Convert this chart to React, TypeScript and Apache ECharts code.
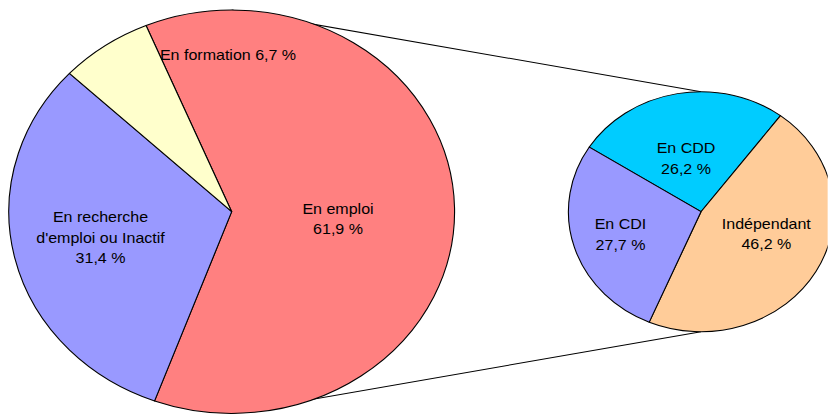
import React, { useEffect, useRef } from "react";
import * as echarts from "echarts";

// Main pie (situation)
const mainCategories = ["En emploi", "En recherche\nd'emploi ou Inactif", "En formation"];
const mainValues = [61.9, 31.4, 6.7];
const mainColors = ["#FF8080", "#9999FF", "#FFFFCC"];

// Detail pie (breakdown of "En emploi")
const subCategories = ["En CDD", "Indépendant", "En CDI"];
const subValues = [26.2, 46.2, 27.7];
const subColors = ["#00CCFF", "#FFCC99", "#9999FF"];

// Horizontal stretch of the whole picture (pies drawn as ellipses)
const S = 1.105;
const W = 828 / S;
const H = 414;

// Layout (in unstretched coordinates)
const C1 = { x: 231.7 / S, y: 211.7, r: 201.7 };
const C2 = { x: 701 / S, y: 211.7, r: 120 };

// Label centres (in picture coordinates)
const mainLabelPos = [
  [338, 219],
  [100.5, 237.5],
  [228, 54.5],
];
const subLabelPos = [
  [686, 158.3],
  [766.3, 234],
  [620.5, 234.5],
];

const fmt = (v: number) => v.toFixed(1).replace(".", ",") + " %";

export default function App() {
  const ref = useRef<HTMLDivElement>(null);
  useEffect(() => {
    if (!ref.current) return;
    const chart = echarts.init(ref.current, null, { renderer: "svg" });
    const labelStyle = {
      show: true,
      position: "inside" as const,
      color: "#000",
      fontSize: 14.5,
      lineHeight: 20.5,
      fontFamily: "'Liberation Sans', Arial, sans-serif",
      align: "center" as const,
    };
    chart.setOption({
      animation: false,
      backgroundColor: "#fff",
      graphic: [
        {
          type: "line",
          z: -10,
          silent: true,
          shape: { x1: C1.x, y1: C1.y - C1.r, x2: C2.x, y2: C2.y - C2.r },
          style: { stroke: "#000", lineWidth: 1 },
        },
        {
          type: "line",
          z: -10,
          silent: true,
          shape: { x1: C1.x, y1: C1.y + C1.r, x2: C2.x, y2: C2.y + C2.r },
          style: { stroke: "#000", lineWidth: 1 },
        },
      ],
      series: [
        {
          type: "pie",
          silent: true,
          z: 5,
          center: [C1.x, C1.y],
          radius: [0, C1.r],
          startAngle: 112.6,
          clockwise: true,
          avoidLabelOverlap: false,
          itemStyle: { borderColor: "#000", borderWidth: 1 },
          label: {
            ...labelStyle,
            formatter: (p: any) =>
              p.dataIndex === 2 ? `${p.name} ${fmt(p.value)}` : `${p.name}\n${fmt(p.value)}`,
          },
          labelLine: { show: false },
          labelLayout: (p: any) => ({
            x: mainLabelPos[p.dataIndex][0] / S,
            y: mainLabelPos[p.dataIndex][1],
            align: "center",
            verticalAlign: "middle",
          }),
          data: mainCategories.map((name, i) => ({
            name,
            value: mainValues[i],
            itemStyle: { color: mainColors[i] },
          })),
        },
        {
          type: "pie",
          silent: true,
          z: 5,
          center: [C2.x, C2.y],
          radius: [0, C2.r],
          startAngle: 147.4,
          clockwise: true,
          avoidLabelOverlap: false,
          itemStyle: { borderColor: "#000", borderWidth: 1 },
          label: {
            ...labelStyle,
            formatter: (p: any) => `${p.name}\n${fmt(p.value)}`,
          },
          labelLine: { show: false },
          labelLayout: (p: any) => ({
            x: subLabelPos[p.dataIndex][0] / S,
            y: subLabelPos[p.dataIndex][1],
            align: "center",
            verticalAlign: "middle",
          }),
          data: subCategories.map((name, i) => ({
            name,
            value: subValues[i],
            itemStyle: { color: subColors[i] },
          })),
        },
      ],
    });
    return () => chart.dispose();
  }, []);
  return (
    <div
      ref={ref}
      style={{
        position: "absolute",
        left: 0,
        top: 0,
        width: W,
        height: H,
        transform: `scaleX(${S})`,
        transformOrigin: "0 0",
      }}
    />
  );
}
